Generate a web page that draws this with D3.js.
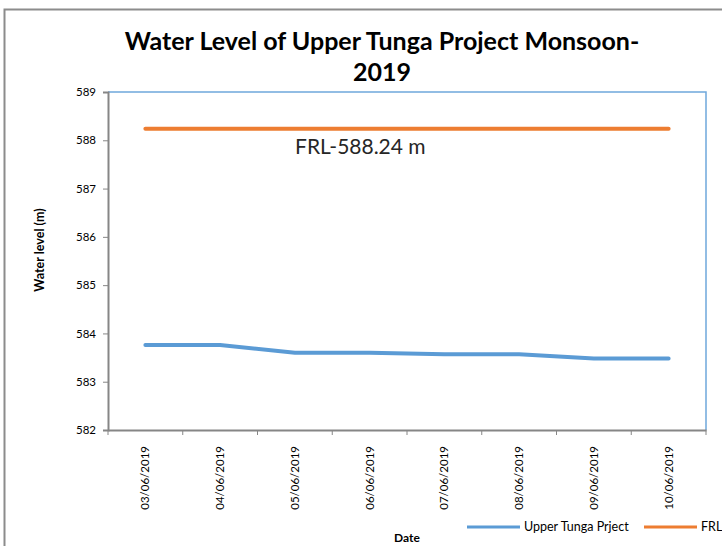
<!DOCTYPE html>
<html>
<head>
<meta charset="utf-8">
<style>
  body { margin: 0; background: #fff; }
  svg { display: block; font-family: Lato, "Open Sans", sans-serif; }
</style>
</head>
<body>
<svg width="722" height="546"></svg>
<script src="https://d3js.org/d3.v7.min.js"></script>
<script>
// data
var dates = ["03/06/2019", "04/06/2019", "05/06/2019", "06/06/2019",
             "07/06/2019", "08/06/2019", "09/06/2019", "10/06/2019"];
var upperTunga = [583.76, 583.76, 583.60, 583.60, 583.57, 583.57, 583.48, 583.48];
var frl = [588.24, 588.24, 588.24, 588.24, 588.24, 588.24, 588.24, 588.24];
var yTicks = [582, 583, 584, 585, 586, 587, 588, 589];

var svg = d3.select("svg");

var plotL = 108, plotR = 706, plotT = 92, plotB = 430;

// outer chart border
svg.append("rect")
    .attr("x", 4.5).attr("y", 9.5)
    .attr("width", 740).attr("height", 560)
    .attr("fill", "none")
    .attr("stroke", "#8c8c8c")
    .attr("stroke-width", 2);

var x = d3.scaleBand().domain(dates).range([plotL, plotR]);
var y = d3.scaleLinear().domain([582, 589]).range([plotB, plotT]);

// plot area frame (top + right in light blue)
svg.append("path")
    .attr("d", "M" + plotL + "," + plotT + "H" + plotR + "V" + plotB)
    .attr("fill", "none")
    .attr("stroke", "#6fa8dc")
    .attr("stroke-width", 1.5);

// y axis
var yAxis = svg.append("g")
    .attr("transform", "translate(" + plotL + ",0)")
    .call(d3.axisLeft(y).tickValues(yTicks).tickFormat(d3.format("d"))
        .tickSize(5).tickPadding(7));
yAxis.select(".domain").attr("stroke", "#868686").attr("stroke-width", 2);
yAxis.selectAll(".tick line").attr("stroke", "#868686");
yAxis.selectAll("text").attr("font-size", 11.5).attr("fill", "#000")
    .attr("font-family", "Lato, sans-serif");

// x axis with ticks at category boundaries
var xAxis = svg.append("g")
    .attr("transform", "translate(0," + plotB + ")")
    .call(d3.axisBottom(x).tickSize(0).tickPadding(0));
xAxis.select(".domain").attr("stroke", "#868686").attr("stroke-width", 2);
xAxis.selectAll(".tick text")
    .attr("font-size", 11.5).attr("fill", "#000")
    .attr("font-family", "Lato, sans-serif")
    .attr("transform", "rotate(-90)")
    .attr("text-anchor", "end")
    .attr("dy", "0.35em")
    .attr("x", -16).attr("y", 0);
xAxis.selectAll(".bound")
    .data(d3.range(dates.length + 1))
    .enter().append("line")
    .attr("class", "bound")
    .attr("x1", function(i) { return plotL + i * x.bandwidth(); })
    .attr("x2", function(i) { return plotL + i * x.bandwidth(); })
    .attr("y1", 0).attr("y2", 5)
    .attr("stroke", "#868686");

var line = d3.line()
    .x(function(d, i) { return x(dates[i]) + x.bandwidth() / 2; })
    .y(function(d) { return y(d); });

svg.append("path")
    .datum(frl)
    .attr("d", line)
    .attr("fill", "none")
    .attr("stroke", "#ed7d31")
    .attr("stroke-width", 4)
    .attr("stroke-linecap", "round");

svg.append("path")
    .datum(upperTunga)
    .attr("d", line)
    .attr("fill", "none")
    .attr("stroke", "#5b9bd5")
    .attr("stroke-width", 4)
    .attr("stroke-linecap", "round");

// annotation
svg.append("text")
    .attr("x", 295).attr("y", 154)
    .attr("font-size", 21)
    .attr("fill", "#262626")
    .text("FRL-588.24 m");

// title
svg.append("text")
    .attr("x", 382).attr("y", 50)
    .attr("text-anchor", "middle")
    .attr("font-size", 25).attr("font-weight", "bold")
    .text("Water Level of Upper Tunga Project Monsoon-");
svg.append("text")
    .attr("x", 382).attr("y", 81)
    .attr("text-anchor", "middle")
    .attr("font-size", 25).attr("font-weight", "bold")
    .text("2019");

// axis titles
svg.append("text")
    .attr("transform", "translate(44,250) rotate(-90)")
    .attr("text-anchor", "middle")
    .attr("font-size", 12.5).attr("font-weight", "bold")
    .text("Water level (m)");
svg.append("text")
    .attr("x", 407).attr("y", 542)
    .attr("text-anchor", "middle")
    .attr("font-size", 12).attr("font-weight", "bold")
    .text("Date");

// legend
var legend = [
  { name: "Upper Tunga Prject", color: "#5b9bd5", x: 467 },
  { name: "FRL", color: "#ed7d31", x: 644 }
];
var lg = svg.selectAll(".legend").data(legend).enter().append("g")
    .attr("class", "legend")
    .attr("transform", function(d) { return "translate(" + d.x + ",527)"; });
lg.append("line")
    .attr("x1", 0).attr("x2", 53)
    .attr("stroke", function(d) { return d.color; })
    .attr("stroke-width", 3);
lg.append("text")
    .attr("x", 57).attr("dy", "0.35em")
    .attr("font-size", 12.5)
    .text(function(d) { return d.name; });
</script>
</body>
</html>
